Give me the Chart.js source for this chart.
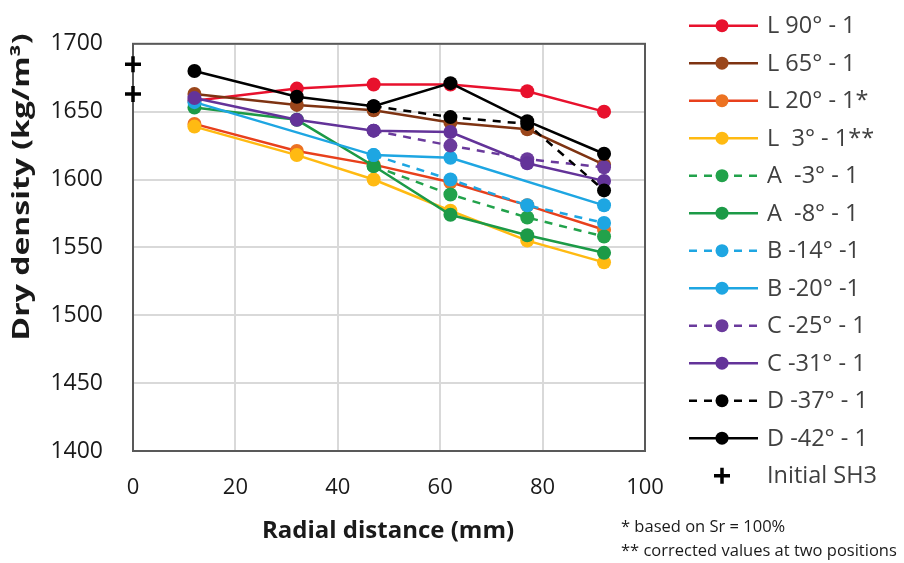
<!DOCTYPE html>
<html>
<head>
<meta charset="utf-8">
<script src="https://cdn.jsdelivr.net/npm/chart.js@4.4.0/dist/chart.umd.min.js"></script>
<style>
  html, body { margin: 0; background: #fff; }
  #wrap { width: 904px; height: 563px; }
</style>
</head>
<body>
<div id="wrap"><canvas id="chart"></canvas></div>
<script>
// ---------- Data ----------
const radialMm = [12, 32, 47, 62, 77, 92];

const l90 = [1658, 1667, 1670, 1670, 1665, 1650];
const l65 = [1663, 1655, 1651, 1642, 1637, 1611];
const l20 = [1641, 1621, 1611, 1598, 1581, 1563];
const l3 = [1639, 1618, 1600, 1577, 1555, 1539];
const aMinus3 = [null, null, 1610, 1589, 1572, 1558];
const aMinus8 = [1653, 1644, 1610, 1574, 1559, 1546];
const bMinus14 = [null, null, 1618, 1600, 1581, 1568];
const bMinus20 = [1657, null, 1618, 1616, null, 1581];
const cMinus25 = [null, null, 1636, 1625, 1615, 1609];
const cMinus31 = [1660, 1644, 1636, 1635, 1612, 1599];
const dMinus37 = [null, null, 1654, 1646, 1641, 1592];
const dMinus42 = [1680, 1661, 1654, 1671, 1643, 1619];

const initialX = [0, 0];
const initialSH3 = [1685, 1663];

const seriesLabels = [
  "L 90° - 1", "L 65° - 1", "L 20° - 1*", "L  3° - 1**",
  "A  -3° - 1", "A  -8° - 1", "B -14° -1", "B -20° -1",
  "C -25° - 1", "C -31° - 1", "D -37° - 1", "D -42° - 1"
];
const initialLabel = "Initial SH3";
const footnotes = ["* based on Sr = 100%", "** corrected values at two positions"];

const xTitle = "Radial distance (mm)";
const yTitle = "Dry density (kg/m³)";

// ---------- Styles ----------
const FONT = "'Open Sans', 'Noto Sans', sans-serif";
const series = [
  { values: l90, line: "#e8112d", point: "#e8112d", dash: [] },
  { values: l65, line: "#7e3312", point: "#9a461b", dash: [] },
  { values: l20, line: "#e8401c", point: "#ec7222", dash: [] },
  { values: l3, line: "#ffba12", point: "#ffba12", dash: [] },
  { values: aMinus3, line: "#22a24b", point: "#22a24b", dash: [8, 7] },
  { values: aMinus8, line: "#1c9a47", point: "#1c9a47", dash: [] },
  { values: bMinus14, line: "#1ea6e2", point: "#1ea6e2", dash: [8, 7] },
  { values: bMinus20, line: "#1ea6e2", point: "#1ea6e2", dash: [] },
  { values: cMinus25, line: "#6a3a9c", point: "#6a3a9c", dash: [8, 7] },
  { values: cMinus31, line: "#633399", point: "#633399", dash: [] },
  { values: dMinus37, line: "#000000", point: "#000000", dash: [8, 7] },
  { values: dMinus42, line: "#000000", point: "#000000", dash: [] }
];

const datasets = series.map((s, i) => ({
  label: seriesLabels[i],
  data: radialMm.map((x, j) => ({ x, y: s.values[j] })),
  borderColor: s.line,
  backgroundColor: s.point,
  pointBackgroundColor: s.point,
  pointBorderColor: s.point,
  borderDash: s.dash,
  borderWidth: 2.5,
  pointRadius: 7,
  pointBorderWidth: 0,
  spanGaps: true,
  tension: 0,
  order: series.length - i // later series drawn on top
}));

datasets.push({
  label: initialLabel,
  data: initialX.map((x, j) => ({ x, y: initialSH3[j] })),
  showLine: false,
  pointStyle: "cross",
  pointRadius: 8,
  pointBorderWidth: 3.5,
  pointBorderColor: "#000",
  borderColor: "#000",
  clip: false,
  order: -1
});

// ---------- Plugins ----------
const frame = {
  id: "frame",
  beforeDatasetsDraw(chart) {
    const { ctx, chartArea: a } = chart;
    ctx.save();
    ctx.strokeStyle = "#595959";
    ctx.lineWidth = 2;
    ctx.strokeRect(a.left, a.top, a.right - a.left, a.bottom - a.top);
    ctx.restore();
  }
};

const sideLegend = {
  id: "sideLegend",
  afterDraw(chart) {
    const ctx = chart.ctx;
    const x0 = 689, x1 = 758, xm = 722, tx = 767;
    ctx.save();
    ctx.textBaseline = "middle";
    ctx.font = "23.5px " + FONT;
    chart.data.datasets.forEach((ds, i) => {
      const y = 25.7 + i * 37.5;
      if (ds.showLine === false) {
        ctx.strokeStyle = "#000";
        ctx.lineWidth = 3.5;
        ctx.beginPath();
        ctx.moveTo(xm - 8, y); ctx.lineTo(xm + 8, y);
        ctx.moveTo(xm, y - 8); ctx.lineTo(xm, y + 8);
        ctx.stroke();
      } else {
        ctx.strokeStyle = ds.borderColor;
        ctx.lineWidth = ds.borderWidth;
        ctx.setLineDash(ds.borderDash);
        ctx.beginPath();
        ctx.moveTo(x0, y); ctx.lineTo(x1, y);
        ctx.stroke();
        ctx.setLineDash([]);
        ctx.fillStyle = ds.pointBackgroundColor;
        ctx.beginPath();
        ctx.arc(xm, y, 6.5, 0, Math.PI * 2);
        ctx.fill();
      }
      ctx.fillStyle = "#404040";
      ctx.fillText(ds.label, tx, y + 1);
    });

    // footnotes
    ctx.font = "16.5px " + FONT;
    ctx.fillStyle = "#1a1a1a";
    ctx.fillText(footnotes[0], 621, 527);
    ctx.fillText(footnotes[1], 621, 551);

    // axis titles
    ctx.font = "bold 24px " + FONT;
    ctx.fillStyle = "#1a1a1a";
    ctx.textAlign = "center";
    ctx.fillText(xTitle, 388, 531);

    ctx.font = "bold 23px " + FONT;
    ctx.translate(22, 187);
    ctx.rotate(-Math.PI / 2);
    const w = ctx.measureText(yTitle).width;
    ctx.scale(307 / w, 1);
    ctx.fillText(yTitle, 0, 0);
    ctx.restore();
  }
};

// ---------- Chart ----------
new Chart(document.getElementById("chart"), {
  type: "line",
  data: { datasets },
  plugins: [frame, sideLegend],
  options: {
    responsive: true,
    maintainAspectRatio: false,
    animation: false,
    layout: { padding: { top: 21, right: 259, left: 0, bottom: 0 } },
    plugins: { legend: { display: false }, tooltip: { enabled: false } },
    scales: {
      x: {
        type: "linear",
        min: 0, max: 100,
        ticks: { stepSize: 20, padding: 24, color: "#1a1a1a", font: { family: FONT, size: 22 } },
        grid: { color: "#d9d9d9", lineWidth: 2, drawTicks: false },
        border: { display: false },
        afterFit(s) { s.height = 112; }
      },
      y: {
        min: 1400, max: 1700,
        ticks: {
          stepSize: 50, padding: 30, color: "#1a1a1a",
          font: { family: FONT, size: 23 },
          callback: v => String(v)
        },
        grid: { color: "#d9d9d9", lineWidth: 2, drawTicks: false },
        border: { display: false },
        afterFit(s) { s.width = 133; }
      }
    }
  }
});
</script>
</body>
</html>
